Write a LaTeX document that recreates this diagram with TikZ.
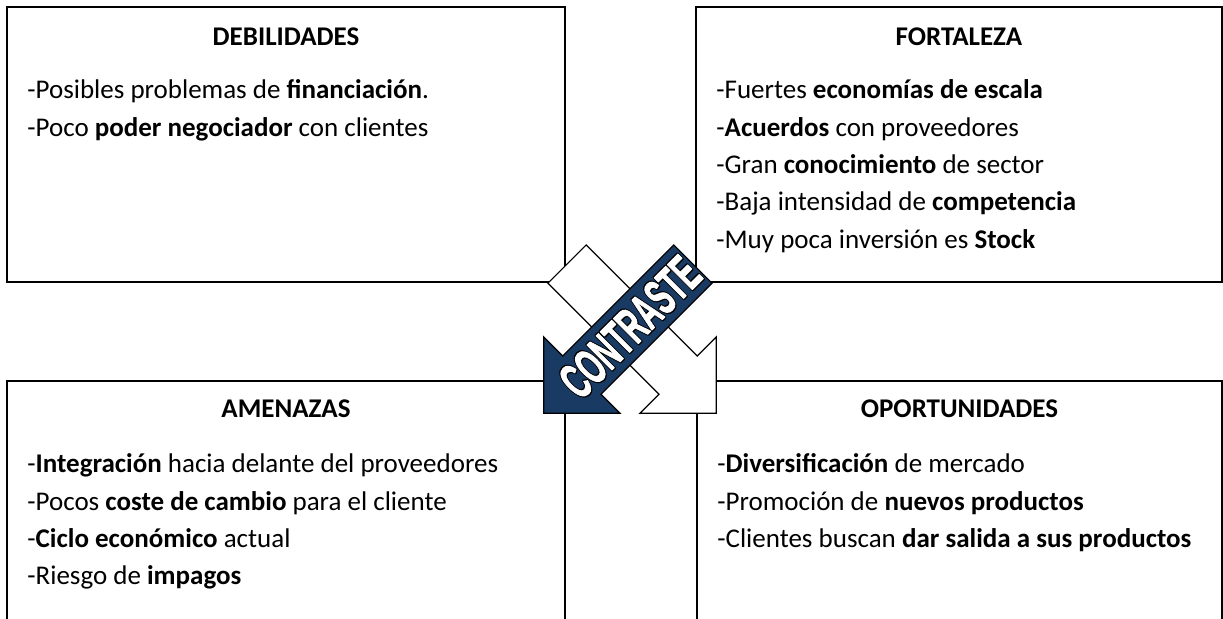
\documentclass[tikz,border=0pt]{standalone}
\usepackage{fontspec}
\setmainfont{Carlito}
\newfontfamily\bannerfont{Liberation Sans}
\usetikzlibrary{calc}
% texto con contorno: #1 grosor, #2 color del trazo (RG)
\newcommand\strokedtext[3]{\special{pdf:literal direct #2 RG #1 w 1 j 2 Tr}#3\special{pdf:literal direct 0 Tr}}

\begin{document}
\begin{tikzpicture}[x=0.5pt,y=-0.5pt]
    	\definecolor{bannerblue}{RGB}{25,58,99}
    	\tikzset{swotbox/.style={draw=black,line width=1pt,anchor=north west,inner sep=0pt,outer sep=0pt},
    	  boxtitle/.style={anchor=base,inner sep=0pt,font=\fontsize{13.5}{15}\selectfont\bfseries},
    	  boxitem/.style={anchor=base west,inner sep=0pt,font=\fontsize{13.5}{15}\selectfont},
    	  arrowline/.style={draw=black,line width=0.6pt,line join=miter},
    	  banner/.style={rotate=45,inner sep=0pt,font=\bannerfont\bfseries\fontsize{25.5}{28}\selectfont}}

    	\pgfmathsetmacro{\tl}{89}
    	\pgfmathsetmacro{\hb}{68}
    	\pgfmathsetmacro{\tp}{122}
    	\pgfmathsetmacro{\bw}{27}
    	\pgfmathsetmacro{\hw}{54}

    	\useasboundingbox (0,0) rectangle (1223,619);
    	\clip (0,0) rectangle (1223,619);

    	% los cuatro cuadros
    	\node[swotbox,minimum width=279pt,minimum height=137.5pt] (deb) at (7,7) {};
    	\node[swotbox,minimum width=263pt,minimum height=137.5pt] (fort) at (696,7) {};
    	\node[swotbox,minimum width=279pt,minimum height=140pt] (ame) at (7,381) {};
    	\node[swotbox,minimum width=262.5pt,minimum height=140pt] (opo) at (697,381) {};

    	\node[boxtitle] (debt) at ($(deb.north)+(0,39)$) {DEBILIDADES};
    	\node[boxtitle] (fortt) at ($(fort.north)+(0,39)$) {FORTALEZA};
    	\node[boxtitle] (amet) at ($(ame.north)+(0,37)$) {AMENAZAS};
    	\node[boxtitle] (opot) at ($(opo.north)+(0,37)$) {OPORTUNIDADES};

    	\foreach \txt [count=\i] in {{-Posibles problemas de \textbf{financiación}.},
    	  {-Poco \textbf{poder negociador} con clientes}}
    	  \node[boxitem] (deb\i) at ($(deb.north west)+(20,{92+(\i-1)*37.3})$) {\txt};
    	\foreach \txt [count=\i] in {{-Fuertes \textbf{economías de escala}},
    	  {-\textbf{Acuerdos} con proveedores},
    	  {-Gran \textbf{conocimiento} de sector},
    	  {-Baja intensidad de \textbf{competencia}},
    	  {-Muy poca inversión es \textbf{Stock}}}
    	  \node[boxitem] (fort\i) at ($(fort.north west)+(20,{92+(\i-1)*37.3})$) {\txt};
    	\foreach \txt [count=\i] in {{-\textbf{Integración} hacia delante del proveedores},
    	  {-Pocos \textbf{coste de cambio} para el cliente},
    	  {-\textbf{Ciclo económico} actual},
    	  {-Riesgo de \textbf{impagos}}}
    	  \node[boxitem] (ame\i) at ($(ame.north west)+(20,{92+(\i-1)*37.3})$) {\txt};
    	\foreach \txt [count=\i] in {{-\textbf{Diversificación} de mercado},
    	  {-Promoción de \textbf{nuevos productos}},
    	  {-Clientes buscan \textbf{dar salida a sus productos}}}
    	  \node[boxitem] (opo\i) at ($(opo.north west)+(20,{92+(\i-1)*37.3})$) {\txt};

    	% flechas cruzadas
    	\begin{scope}[shift={(630,327)},rotate=-45]
    	  \filldraw[arrowline,fill=white] (-\tl,-\bw) -- (\hb,-\bw) -- (\hb,-\hw) -- (\tp,0)
    	    -- (\hb,\hw) -- (\hb,\bw) -- (-\tl,\bw) -- cycle;
    	\end{scope}
    	\begin{scope}[shift={(630,327)},rotate=-135]
    	  \filldraw[arrowline,fill=bannerblue] (-\tl,-\bw) -- (\hb,-\bw) -- (\hb,-\hw) -- (\tp,0)
    	    -- (\hb,\hw) -- (\hb,\bw) -- (-\tl,\bw) -- cycle;
    	\end{scope}

    	\node[banner,text=white] (contraste) at (630,327)
    	  {\scalebox{0.55}[1]{\rlap{\strokedtext{2.0}{0 0 0}{CONTRASTE}}\strokedtext{0.5}{1 1 1}{CONTRASTE}}};
\end{tikzpicture}
\end{document}
